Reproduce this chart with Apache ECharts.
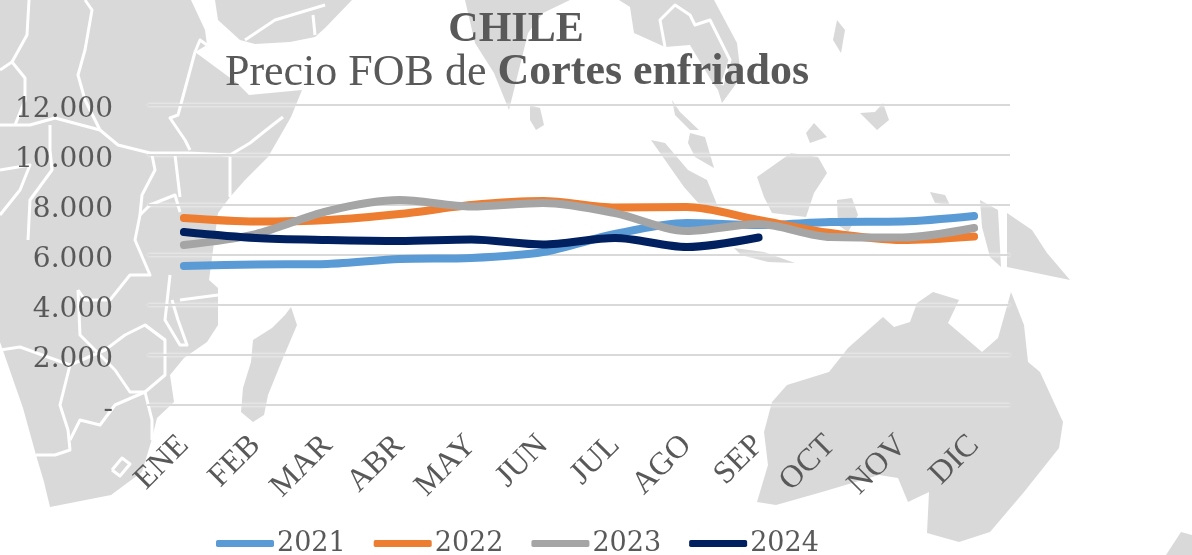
<!DOCTYPE html>
<html><head><meta charset="utf-8">
<style>html,body{margin:0;padding:0;background:#fff}#c{width:1192px;height:555px}</style>
<script src="https://cdn.jsdelivr.net/npm/echarts@6/dist/echarts.min.js"></script>
</head><body><div id="c"></div>
<script>
const months = ['ENE','FEB','MAR','ABR','MAY','JUN','JUL','AGO','SEP','OCT','NOV','DIC'];
const s2021 = [5550,5610,5630,5830,5870,6110,6830,7270,7190,7310,7330,7550];
const s2022 = [7470,7330,7390,7630,7990,8150,7890,7910,7390,6870,6590,6730];
const s2023 = [6390,6830,7750,8190,7930,8070,7670,6950,7230,6710,6690,7070];
const s2024 = [6910,6670,6590,6550,6610,6410,6670,6310,6690];
const colors = ['#5b9bd5','#ed7d31','#a5a5a5','#002060'];
const ink = '#595959';
const serif = '"Liberation Serif", serif';
const numFont = '"DejaVu Serif", serif';

// decorative background map (not data)
const land = [
 [[0,0],[191,0],[205,30],[207,45],[195,52],[237,83],[249,95],[302,90],[291,117],[268,157],[245,180],[230,197],[218,213],[209,280],[218,288],[218,325],[207,342],[184,358],[170,375],[174,402],[157,418],[151,442],[142,472],[111,495],[50,507],[44,482],[36,455],[23,408],[0,342]],
 [[215,0],[352,0],[325,28],[315,37],[290,42],[255,44],[240,40],[218,20]],
 [[291,307],[297,325],[283,358],[268,395],[264,415],[253,422],[241,412],[243,388],[251,362],[253,340],[272,328],[285,315]],
 [[465,0],[570,0],[543,13],[528,33],[509,110],[494,73],[475,43]],
 [[530,105],[540,108],[544,125],[536,130],[530,120]],
 [[619,0],[714,0],[737,43],[741,77],[722,103],[718,90],[711,80],[690,45],[665,47],[634,33],[630,7]],
 [[672,100],[680,112],[699,130],[690,130],[675,115]],
 [[651,140],[665,143],[688,170],[707,180],[718,207],[700,205],[684,187]],
 [[690,133],[705,137],[714,168],[695,157],[688,143]],
 [[757,177],[791,153],[818,157],[827,173],[814,193],[806,217],[772,213],[764,197]],
 [[734,248],[764,252],[795,263],[768,262],[741,255]],
 [[837,200],[852,198],[858,215],[848,232],[838,225]],
 [[837,20],[845,30],[841,53],[833,40]],
 [[814,123],[827,137],[810,143],[806,133]],
 [[883,103],[889,120],[877,130],[860,113],[875,112]],
 [[930,192],[945,195],[950,205],[935,203]],
 [[980,200],[998,210],[1001,267],[990,257],[982,227]],
 [[1007,213],[1032,230],[1047,253],[1070,280],[1007,267]],
 [[933,292],[959,300],[948,323],[982,352],[998,338],[1011,292],[1024,325],[1028,362],[1040,372],[1063,422],[1059,448],[1024,492],[990,532],[959,542],[927,533],[929,492],[908,502],[898,478],[879,475],[822,492],[776,505],[757,502],[768,465],[764,432],[772,402],[787,385],[829,372],[848,348],[883,317],[894,327],[910,322],[917,303]],
 [[1166,555],[1181,532],[1192,535],[1192,555]]
];
const borders = [
 [[29,0],[27,35],[12,62],[25,78],[25,100],[15,125]],
 [[0,70],[12,62]],
 [[85,0],[92,10],[85,50],[78,75],[85,100],[100,130],[118,145],[150,153],[188,153],[230,155],[250,143],[270,127],[283,117]],
 [[0,125],[30,125],[55,118],[100,130]],
 [[50,125],[50,150],[52,170],[30,200],[28,240]],
 [[0,170],[30,165],[20,190],[0,215]],
 [[195,52],[178,115],[170,118],[185,140],[190,150]],
 [[152,155],[155,170],[142,195],[140,215],[150,205],[175,195],[180,212]],
 [[175,155],[180,197]],
 [[230,157],[230,197]],
 [[140,215],[135,240],[150,275],[130,275],[110,300],[85,300],[78,290]],
 [[78,290],[80,335],[115,370],[130,392],[145,392]],
 [[0,350],[20,347],[70,365],[60,405],[68,430],[70,450],[55,455],[36,455]],
 [[70,365],[105,350],[125,335],[145,325],[165,340],[165,375],[145,392],[115,405],[100,425],[80,420],[70,440]],
 [[170,275],[165,320],[180,345],[187,345],[178,320],[172,300]],
 [[218,295],[180,300]],
 [[165,340],[145,325]],
 [[145,392],[152,420],[152,440]],
 [[112,470],[122,458],[130,464],[120,476],[112,470]],
 [[195,52],[200,40],[207,45]],
 [[245,40],[275,20],[325,5]],
 [[313,15],[315,35]],
 [[665,47],[660,20],[675,5],[690,15],[695,25],[710,20],[730,60],[722,85]]
];
const mapGraphic = [
 ...land.map(p => ({type:'polygon', silent:true, z:-10, shape:{points:p}, style:{fill:'#d9d9d9'}})),
 ...borders.map(p => ({type:'polyline', silent:true, z:-9, shape:{points:p}, style:{stroke:'#ffffff', lineWidth:3, fill:'none', lineJoin:'round'}}))
];

const mk = (name, data, i) => ({
  name, type:'line', data, smooth:0.3, showSymbol:false, symbol:'none', z:3+i,
  lineStyle:{color:colors[i], width:8, cap:'round', join:'round'},
  itemStyle:{color:colors[i]}
});
const chart = echarts.init(document.getElementById('c'), null, {renderer:'canvas'});
chart.setOption({
  animation:false,
  backgroundColor:'#ffffff',
  graphic: mapGraphic,
  title:[
    {text:'CHILE', left:511, top:4, textAlign:'center', textStyle:{fontFamily:serif, fontSize:42, fontWeight:'bold', color:ink}},
    {text:'{r|Precio FOB de }{b|Cortes enfriados}', left:512, top:46, textAlign:'center',
     textStyle:{rich:{
       r:{fontFamily:serif, fontSize:44, fontWeight:'normal', color:ink},
       b:{fontFamily:serif, fontSize:44, fontWeight:'bold', color:ink}}}}
  ],
  grid:{left:148, right:182, top:105, height:299.5, containLabel:false},
  legend:{
    left:211, top:525, itemWidth:58, itemHeight:7, itemGap:28, icon:'roundRect',
    data:['2021','2022','2023','2024'],
    textStyle:{fontFamily:numFont, fontSize:27, color:ink, padding:[0,0,0,-2]}
  },
  xAxis:{
    type:'category', data:months, boundaryGap:true,
    axisTick:{show:false},
    axisLine:{show:true, lineStyle:{color:'#d9d9d9', width:2}},
    axisLabel:{rotate:45, interval:0, margin:36, fontFamily:serif, fontSize:32, color:ink}
  },
  yAxis:{
    type:'value', min:0, max:12000, interval:2000,
    axisLine:{show:false}, axisTick:{show:false},
    splitLine:{lineStyle:{color:'#d9d9d9', width:2, shadowColor:'#ffffff', shadowBlur:3}},
    axisLabel:{margin:35, fontFamily:numFont, fontSize:28, color:ink, verticalAlign:'top', lineHeight:10,
      formatter:v => v === 0 ? '-' : String(v).replace(/(\d)(?=(\d{3})$)/, '$1.')}
  },
  series:[mk('2021',s2021,0), mk('2022',s2022,1), mk('2023',s2023,2), mk('2024',s2024,3)]
});
</script></body></html>
